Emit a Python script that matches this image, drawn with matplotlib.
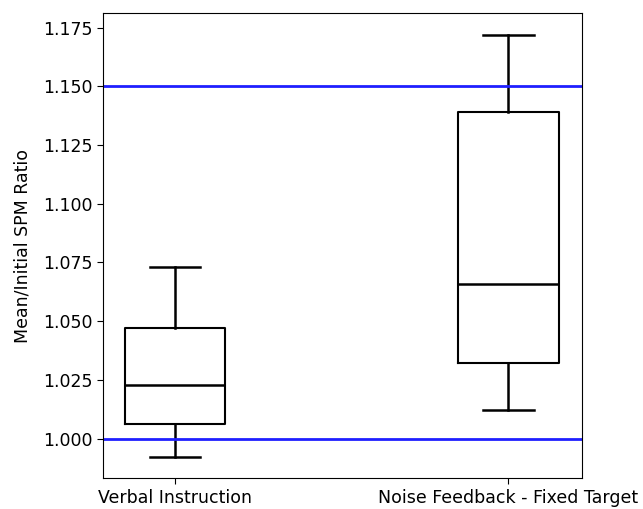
import matplotlib.pyplot as plt

labels = ["Verbal Instruction", "Noise Feedback - Fixed Target"]
whislo = [0.992, 1.012]
q1 = [1.006, 1.032]
med = [1.023, 1.066]
q3 = [1.047, 1.139]
whishi = [1.073, 1.172]
ref_lines = [1.000, 1.150]

stats = []
for i in range(len(labels)):
    stats.append({"label": labels[i], "whislo": whislo[i], "q1": q1[i],
                  "med": med[i], "q3": q3[i], "whishi": whishi[i], "fliers": []})

fig = plt.figure(figsize=(6.43, 5.09), dpi=100)
ax = fig.add_axes([0.16, 0.06, 0.745, 0.915])

ax.bxp(stats, widths=0.3, showfliers=False,
       boxprops=dict(color="black", linewidth=1.5),
       whiskerprops=dict(color="black", linewidth=1.8),
       capprops=dict(color="black", linewidth=1.8),
       medianprops=dict(color="black", linewidth=1.8))

for y in ref_lines:
    ax.axhline(y, color="#1f1fff", linewidth=2)

ax.set_xlim(0.785, 2.22)
ax.set_ylim(0.983, 1.1814)
ax.set_yticks([1.0, 1.025, 1.05, 1.075, 1.1, 1.125, 1.15, 1.175])
ax.set_yticklabels(["%.3f" % v for v in ax.get_yticks()])
ax.tick_params(labelsize=12.5, length=4)
ax.set_ylabel("Mean/Initial SPM Ratio", fontsize=12.5, labelpad=8)

plt.savefig("out.png")
